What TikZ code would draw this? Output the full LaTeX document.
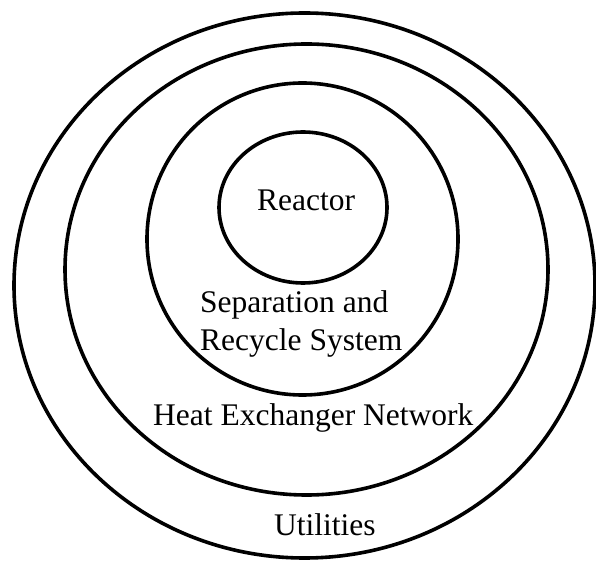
\documentclass[tikz,border=0pt]{standalone}
\usepackage{fontspec}
\setmainfont{Liberation Serif}
\begin{document}
\begin{tikzpicture}[x=1pt,y=1pt,
  ring/.style={line width=3.6pt, draw=black},
  lbl/.style={inner sep=0pt, font=\fontsize{31.5}{38}\selectfont, anchor=base west}]
\useasboundingbox (0,0) rectangle (596,562);
\fill[white] (0,0) rectangle (596,562);
\draw[ring] (304.5,276.5) ellipse [x radius=290.5, y radius=272.5];
\draw[ring] (306.5,292.5) ellipse [x radius=241.5, y radius=225.5];
\draw[ring] (302.5,323) ellipse [x radius=155.5, y radius=156];
\draw[ring] (303,354.5) ellipse [x radius=84, y radius=75.5];
\node[lbl] (reactor) at (257,351) {Reactor};
\node[lbl, align=left] (sep) at (200,211) {Separation and\\Recycle System};
\node[lbl] (hen) at (153,137) {Heat Exchanger Network};
\node[lbl] (util) at (274,27) {Utilities};
\end{tikzpicture}
\end{document}
